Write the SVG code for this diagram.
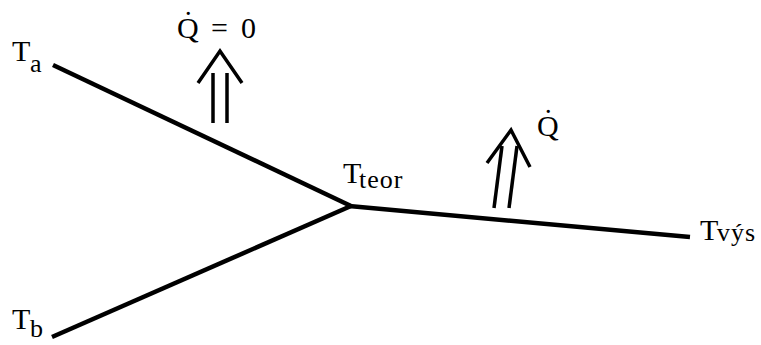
<svg xmlns="http://www.w3.org/2000/svg" width="761" height="345" viewBox="0 0 761 345">
<style>
.ln{stroke:#000;stroke-width:4.5;fill:none;stroke-linecap:butt}
.ar{stroke:#000;stroke-width:3.5;fill:none;stroke-linejoin:miter}
.t{font-family:"Liberation Serif","DejaVu Serif",serif;font-size:30px;fill:#000}
.s{font-size:26px}
</style>
<rect width="761" height="345" fill="#fff"/>
<g id="connectors">
<line class="ln" x1="53" y1="65" x2="351" y2="206"/>
<line class="ln" x1="52" y1="337" x2="351" y2="206"/>
<line class="ln" x1="349" y1="206" x2="690" y2="237"/>
</g>
<g id="arrow-left">
<line class="ar" x1="213" y1="123" x2="213" y2="73"/>
<line class="ar" x1="227" y1="123" x2="227" y2="73"/>
<polyline class="ar" points="198,83 220,51 242,83"/>
</g>
<g id="arrow-right">
<line class="ar" x1="494" y1="208" x2="502" y2="146"/>
<line class="ar" x1="509" y1="208" x2="517" y2="146"/>
<polyline class="ar" points="487,163 511,130 530,167"/>
</g>
<g id="node-Ta"><text class="t" x="12" y="61">T<tspan class="s" x="30" y="72">a</tspan></text></g>
<g id="node-Tb"><text class="t" x="12" y="329">T<tspan class="s" x="30" y="337">b</tspan></text></g>
<g id="node-Tteor"><text class="t" x="343" y="183">T<tspan class="s" x="359" y="188" letter-spacing="1">teor</tspan></text></g>
<g id="node-Tvys"><text class="t" x="700" y="240">T<tspan class="s" x="717" y="241" letter-spacing="1">výs</tspan></text></g>
<g id="label-Q0"><text class="t" y="38"><tspan x="177">Q̇</tspan><tspan x="211">=</tspan><tspan x="241">0</tspan></text></g>
<g id="label-Q"><text class="t" x="537" y="136">Q̇</text></g>
</svg>
